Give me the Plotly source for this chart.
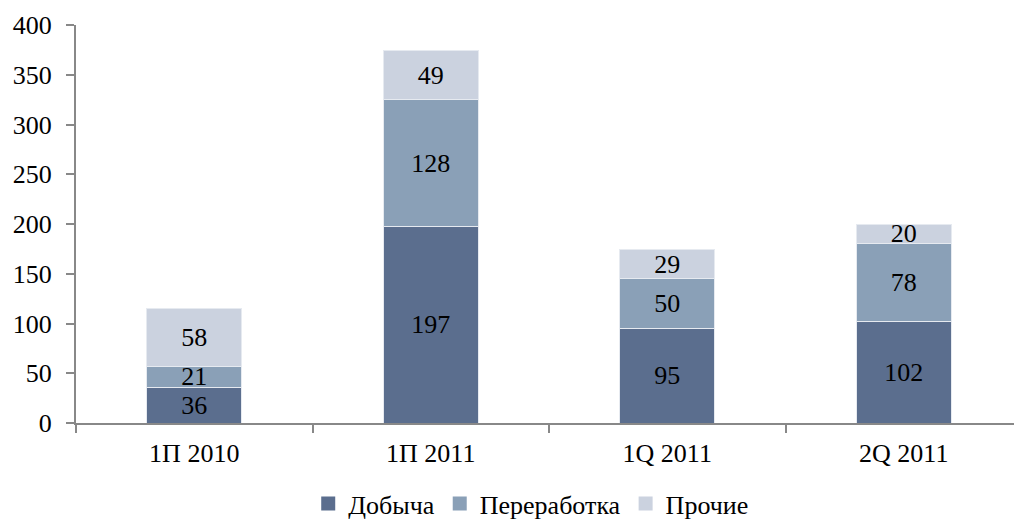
import plotly.graph_objects as go

categories = ["1П 2010", "1П 2011", "1Q 2011", "2Q 2011"]
dobycha = [36, 197, 95, 102]
pererabotka = [21, 128, 50, 78]
prochie = [58, 49, 29, 20]
series_names = ["Добыча", "Переработка", "Прочие"]
colors = ["#5B6E8E", "#8AA0B7", "#CBD2DF"]

FONT = "Liberation Serif"
FS = 26

fig = go.Figure()
for name, vals, col in zip(series_names, [dobycha, pererabotka, prochie], colors):
    fig.add_trace(go.Bar(
        x=categories, y=vals, name=name, showlegend=False,
        marker=dict(color=col, line=dict(color="#E6EAF0", width=1)),
        text=[str(v) for v in vals], textposition="inside",
        insidetextanchor="middle", textangle=0,
        textfont=dict(family=FONT, size=FS, color="black"),
        width=0.4,
    ))
for name, col in zip(series_names, colors):
    fig.add_trace(go.Scatter(
        x=[None], y=[None], name=name, mode="markers",
        marker=dict(symbol="square", size=14, color=col),
    ))

fig.update_layout(
    barmode="stack",
    width=1014, height=512,
    margin=dict(l=68, r=0, t=17, b=97, autoexpand=False),
    paper_bgcolor="white", plot_bgcolor="white",
    font=dict(family=FONT, size=FS, color="black"),
    uniformtext=dict(minsize=FS, mode="show"),
    showlegend=True,
    legend=dict(orientation="h", x=0.516, xref="container", xanchor="center",
                y=0.032, yref="container", yanchor="middle",
                font=dict(family=FONT, size=FS),
                itemwidth=30, traceorder="normal"),
)
fig.update_xaxes(
    showline=True, linecolor="#888888", linewidth=2,
    ticks="outside", tickson="boundaries", ticklen=8, tickcolor="#888888", tickwidth=2,
    tickfont=dict(family=FONT, size=FS), ticklabelstandoff=6,
    showgrid=False, automargin=False,
)
fig.update_yaxes(
    range=[0, 400], dtick=50, tick0=0,
    showline=True, linecolor="#888888", linewidth=2,
    ticks="outside", ticklen=8, tickcolor="#888888", tickwidth=2,
    tickfont=dict(family=FONT, size=FS), ticklabelstandoff=9,
    showgrid=False, zeroline=False, automargin=False,
)

fig.write_html("out.html")
